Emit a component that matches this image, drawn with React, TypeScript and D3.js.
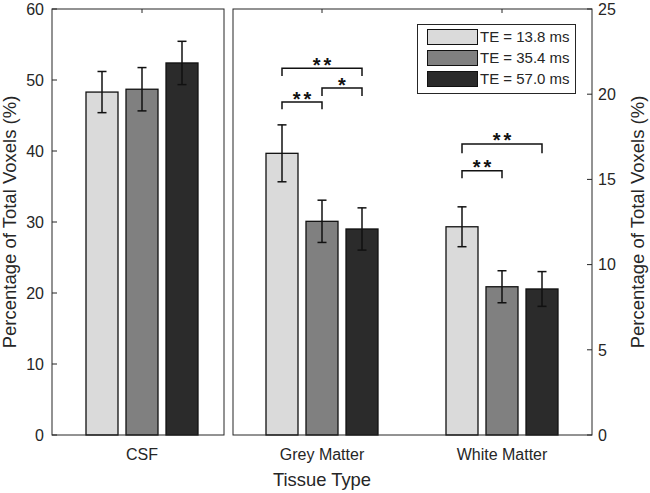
import React from "react";
import * as d3 from "d3";

const categories = ["CSF", "Grey Matter", "White Matter"];
const seriesLabels = ["TE = 13.8 ms", "TE = 35.4 ms", "TE = 57.0 ms"];
const seriesColors = ["#dadada", "#808080", "#2b2b2b"];

// CSF on left axis (0-60)
const csfValues = [48.3, 48.7, 52.4];
const csfErrors = [2.9, 3.05, 3.05];
// Grey / White matter on right axis (0-25)
const gmValues = [16.53, 12.54, 12.09];
const gmErrors = [1.67, 1.24, 1.24];
const wmValues = [12.22, 8.7, 8.57];
const wmErrors = [1.17, 0.94, 1.02];

const leftTicks = [0, 10, 20, 30, 40, 50, 60];
const rightTicks = [0, 5, 10, 15, 20, 25];

const brackets = [
  { cat: 1, a: 0, b: 2, y: 21.52, drop: 0.45, label: "**" },
  { cat: 1, a: 1, b: 2, y: 20.36, drop: 0.46, label: "*" },
  { cat: 1, a: 0, b: 1, y: 19.54, drop: 0.42, label: "**" },
  { cat: 2, a: 0, b: 2, y: 17.08, drop: 0.55, label: "**" },
  { cat: 2, a: 0, b: 1, y: 15.51, drop: 0.44, label: "**" },
];

const W = 650;
const H = 493;
const top = 9;
const bottom = 435;
const axL = 52;
const axR = 592;
const leftBoxR = 224;
const rightBoxL = 233;
const ink = "#262626";
const font = "'Liberation Sans', Arial, sans-serif";
const starSize = 20;
const starSpacing = 3;

export default function App() {
  const x = d3.scaleLinear().domain([0.5, 3.5]).range([axL, axR]);
  const yL = d3.scaleLinear().domain([0, 60]).range([bottom, top]);
  const yR = d3.scaleLinear().domain([0, 25]).range([bottom, top]);
  const off = d3.scaleLinear().domain([0, 2]).range([-40 / 180, 40 / 180]);
  const bw = x(1 + 32 / 180) - x(1);

  const groups = [
    { values: csfValues, errors: csfErrors, y: yL },
    { values: gmValues, errors: gmErrors, y: yR },
    { values: wmValues, errors: wmErrors, y: yR },
  ];

  const cx = (cat: number, s: number) => x(cat + 1 + off(s));

  return (
    <svg width={W} height={H} style={{ position: "absolute", left: 0, top: 0 }} fontFamily={font}>
      <rect x={0} y={0} width={W} height={H} fill="#fff" />
      {/* bars */}
      {groups.map((g, ci) =>
        g.values.map((v, s) => {
          const c = cx(ci, s);
          return (
            <rect key={`${ci}-${s}`} x={c - bw / 2} y={g.y(v)} width={bw} height={bottom - g.y(v)}
              fill={seriesColors[s]} stroke="#111" strokeWidth={1.3} />
          );
        })
      )}
      {/* error bars */}
      {groups.map((g, ci) =>
        g.values.map((v, s) => {
          const c = cx(ci, s);
          const hi = g.y(v + g.errors[s]);
          const lo = g.y(v - g.errors[s]);
          return (
            <g key={`e${ci}-${s}`} stroke="#111" strokeWidth={1.5}>
              <line x1={c} x2={c} y1={hi} y2={lo} />
              <line x1={c - 4.5} x2={c + 4.5} y1={hi} y2={hi} />
              <line x1={c - 4.5} x2={c + 4.5} y1={lo} y2={lo} />
            </g>
          );
        })
      )}
      {/* significance brackets */}
      {brackets.map((b, i) => {
        const x1 = cx(b.cat, b.a);
        const x2 = cx(b.cat, b.b);
        const yy = yR(b.y);
        const yd = yR(b.y - b.drop);
        return (
          <g key={`b${i}`}>
            <path d={`M${x1},${yd}V${yy}H${x2}V${yd}`} fill="none" stroke="#111" strokeWidth={1.5} />
            <text x={(x1 + x2) / 2 + starSpacing / 2} y={yy - 8 + 0.575 * starSize} textAnchor="middle"
              fontSize={starSize} fontWeight="bold" fill="#111" letterSpacing={starSpacing}>{b.label}</text>
          </g>
        );
      })}
      {/* panel boxes */}
      <rect x={axL} y={top} width={leftBoxR - axL} height={bottom - top} fill="none" stroke={ink} strokeWidth={1} />
      <rect x={rightBoxL} y={top} width={axR - rightBoxL} height={bottom - top} fill="none" stroke={ink} strokeWidth={1} />
      {/* top category ticks */}
      {categories.map((c, i) => (
        <line key={`tt${i}`} x1={x(i + 1)} x2={x(i + 1)} y1={top} y2={top + 4} stroke={ink} strokeWidth={1} />
      ))}
      {/* left axis */}
      {leftTicks.map((t) => (
        <g key={`l${t}`}>
          <line x1={axL} x2={axL + 5} y1={yL(t)} y2={yL(t)} stroke={ink} />
          <text x={axL - 8} y={yL(t)} dy="0.36em" textAnchor="end" fontSize={16} fill={ink}>{t}</text>
        </g>
      ))}
      {/* right axis */}
      {rightTicks.map((t) => (
        <g key={`r${t}`}>
          <line x1={axR - 5} x2={axR} y1={yR(t)} y2={yR(t)} stroke={ink} />
          <text x={axR + 6} y={yR(t)} dy="0.36em" textAnchor="start" fontSize={16} fill={ink}>{t}</text>
        </g>
      ))}
      {/* category labels */}
      {categories.map((c, i) => (
        <text key={`c${i}`} x={x(i + 1)} y={460} textAnchor="middle" fontSize={16} fill={ink}>{c}</text>
      ))}
      <text x={(axL + axR) / 2} y={486} textAnchor="middle" fontSize={18.4} fill={ink}>Tissue Type</text>
      <text transform={`translate(16,${(top + bottom) / 2}) rotate(-90)`} textAnchor="middle" fontSize={18.5} fill={ink}>
        Percentage of Total Voxels (%)
      </text>
      <text transform={`translate(644,${(top + bottom) / 2}) rotate(-90)`} textAnchor="middle" fontSize={18.5} fill={ink}>
        Percentage of Total Voxels (%)
      </text>
      {/* legend */}
      <g>
        <rect x={417.5} y={24.5} width={158} height={69} fill="#fff" stroke={ink} strokeWidth={1} />
        {seriesLabels.map((l, i) => (
          <g key={`lg${i}`}>
            <rect x={427.5} y={29.5 + i * 21} width={50} height={15} fill={seriesColors[i]} stroke="#111" strokeWidth={1} />
            <text x={480} y={37 + i * 21} dy="0.36em" fontSize={15} fill={ink}>{l}</text>
          </g>
        ))}
      </g>
    </svg>
  );
}
